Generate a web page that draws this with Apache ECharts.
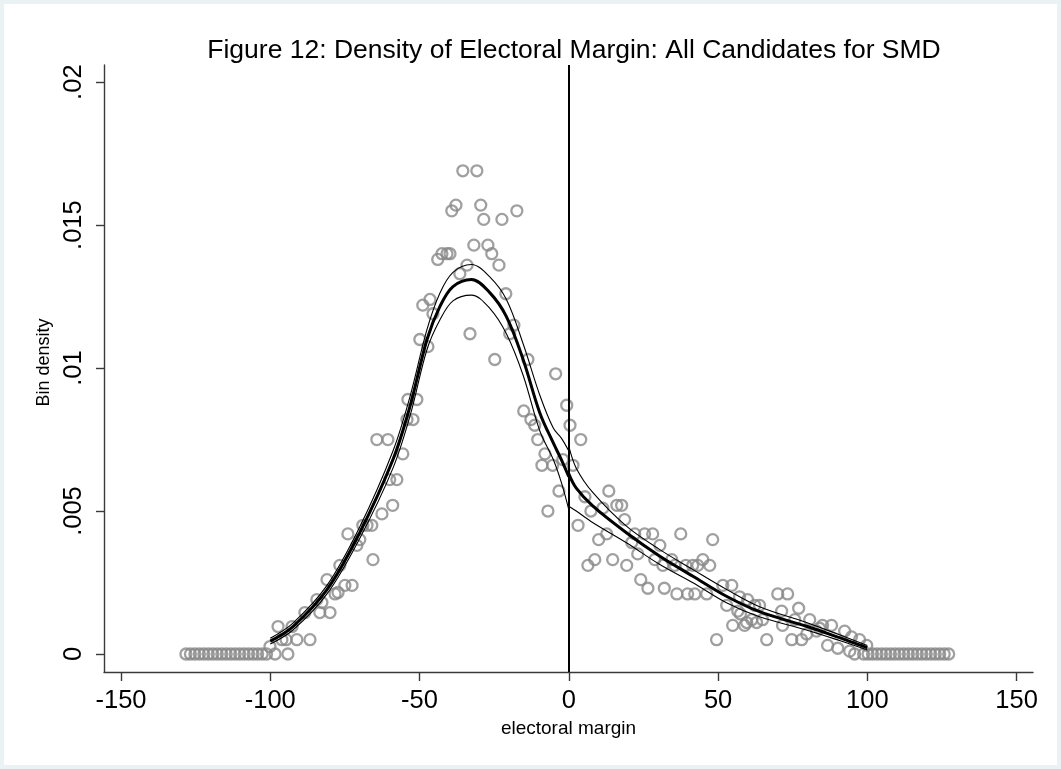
<!DOCTYPE html>
<html>
<head>
<meta charset="utf-8">
<script src="https://cdn.jsdelivr.net/npm/echarts@6/dist/echarts.min.js"></script>
<style>
  html, body { margin: 0; padding: 0; background: #eaf2f3; }
  #chart { width: 1061px; height: 769px; }
</style>
</head>
<body>
<div id="chart"></div>
<script>
// Binned densities of the electoral margin (bin centre, density)
const binMargin = [
  -128.25, -126.75, -125.25, -123.75, -122.25, -120.75, -119.25, -117.75, -116.25, -114.75,
  -113.25, -111.75, -110.25, -108.75, -107.25, -105.75, -104.25, -102.75, -101.25,
  -100.1, -98.4, -97.4, -96.1, -94.7, -94.1, -92.7, -91.1, -88.4, -86.7,
  -84.4, -83.4, -82.7, -81.0, -80.0, -78.3, -77.3, -76.7, -75.0, -74.0,
  -72.6, -71.0, -70.0, -69.0, -67.6, -66.0, -65.6, -64.3, -62.6, -60.6,
  -60.0, -59.0, -57.6, -55.6, -54.2, -53.9, -52.2, -50.9, -49.9, -48.9,
  -47.2, -46.5, -45.5, -43.9, -42.5, -40.8, -39.8, -39.2, -37.8, -36.5,
  -35.5, -34.1, -33.1, -31.8, -30.8, -29.5, -28.5, -27.1, -25.8, -24.8,
  -23.4, -22.4, -21.1, -19.8, -18.4, -17.4, -15.1, -13.7, -12.7, -11.4,
  -10.4, -9.0, -8.0, -7.0, -5.4, -4.4, -3.3, -2.0, -0.7,
  0.4, 1.4, 3.1, 4.0, 5.4, 6.4, 7.4, 8.7, 10.0, 11.4,
  12.7, 13.4, 14.7, 16.1, 17.7, 18.7, 19.4, 21.1, 22.1, 23.1,
  24.1, 25.4, 26.5, 28.1, 28.8, 30.5, 31.5, 32.0, 34.5, 35.5,
  36.2, 37.5, 39.2, 39.8, 41.5, 42.2, 43.2, 44.9, 46.2, 47.2,
  48.2, 49.5, 51.6, 52.9, 54.6, 54.9, 56.6, 57.2, 57.5, 58.9,
  59.6, 59.9, 61.3, 62.3, 62.9, 63.9, 64.9, 66.3, 70.0, 71.3,
  71.6, 73.3, 74.7, 75.7, 77.0, 78.0, 79.7, 80.7, 83.0, 84.0,
  85.0, 86.7, 88.0, 90.1, 92.4, 94.1, 94.7, 95.75, 97.4, 98.75,
  99.8, 100.25,
  101.75, 103.25, 104.75, 106.25, 107.75, 109.25, 110.75, 112.25, 113.75, 115.25,
  116.75, 118.25, 119.75, 121.25, 122.75, 124.25, 125.75, 127.25
];
const binDensity = [
  0, 0, 0, 0, 0, 0, 0, 0, 0, 0,
  0, 0, 0, 0, 0, 0, 0, 0, 0,
  0.00026, 0.0, 0.00096, 0.0005, 0.0005, 0.0, 0.00096, 0.0005, 0.00145, 0.0005,
  0.0019, 0.00145, 0.0018, 0.0026, 0.00145, 0.0021, 0.00215, 0.0031, 0.0024, 0.0042,
  0.0024, 0.0038, 0.0040, 0.0045, 0.0045, 0.0045, 0.0033, 0.0075, 0.0049, 0.0075,
  0.0061, 0.0052, 0.0061, 0.0070, 0.0082, 0.0089, 0.0082, 0.0089, 0.0110, 0.0122,
  0.01075, 0.0124, 0.0119, 0.0138, 0.0140, 0.0140, 0.0140, 0.0155, 0.0157, 0.0133,
  0.0169, 0.0136, 0.0112, 0.0143, 0.0169, 0.0157, 0.0152, 0.0143, 0.0140, 0.0103,
  0.0136, 0.0152, 0.0126, 0.0112, 0.0115, 0.0155, 0.0085, 0.0103, 0.0082, 0.0080,
  0.0075, 0.0066, 0.0070, 0.0050, 0.0066, 0.0098, 0.0057, 0.0068, 0.0087,
  0.0080, 0.0066, 0.0045, 0.0075, 0.0055, 0.0031, 0.0050, 0.0033, 0.0040, 0.0051,
  0.0042, 0.0057, 0.0033, 0.0052, 0.0052, 0.0047, 0.0031, 0.0039, 0.0042, 0.0035,
  0.0026, 0.0042, 0.0023, 0.0042, 0.0033, 0.0038, 0.0031, 0.0023, 0.0033, 0.0031,
  0.0021, 0.0042, 0.0031, 0.0021, 0.0031, 0.0021, 0.0031, 0.0033, 0.0021, 0.0031,
  0.0040, 0.0005, 0.0024, 0.0017, 0.0024, 0.0010, 0.0015, 0.0020, 0.0014, 0.0010,
  0.0011, 0.0019, 0.0012, 0.0017, 0.0011, 0.0017, 0.0012, 0.0005, 0.0021, 0.0015,
  0.0010, 0.0021, 0.0005, 0.0012, 0.0016, 0.0005, 0.0007, 0.0012, 0.0008, 0.0009,
  0.0010, 0.0003, 0.0010, 0.0002, 0.0008, 0.0001, 0.0006, 0, 0.0005, 0,
  0.0003, 0,
  0, 0, 0, 0, 0, 0, 0, 0, 0, 0,
  0, 0, 0, 0, 0, 0, 0, 0
];

// Local linear fit and confidence bounds, left of the cutoff
const leftFitX   = [-100, -92.4, -81, -70, -58.9, -53.2, -47.5, -43.2, -38.8, -32.6, -26.4, -20.9, -15.3, -9.7, -5.2, -2.5, 0];
const leftFit    = [0.00045, 0.00096, 0.00225, 0.00425, 0.0068, 0.00866, 0.0110, 0.01215, 0.01285, 0.0131, 0.01263, 0.0118, 0.0103, 0.00843, 0.00738, 0.0068, 0.0062];
const leftUpper  = [0.00055, 0.00108, 0.0024, 0.00445, 0.0071, 0.0090, 0.01135, 0.01262, 0.01335, 0.01362, 0.01318, 0.0124, 0.01085, 0.00905, 0.0079, 0.00755, 0.0071];
const leftLower  = [0.00035, 0.00084, 0.0021, 0.00405, 0.0065, 0.00832, 0.01065, 0.01168, 0.01235, 0.01255, 0.01208, 0.0112, 0.00975, 0.0078, 0.0068, 0.0060, 0.00505];

// Local linear fit and confidence bounds, right of the cutoff
const rightFitX  = [0, 2.5, 8.1, 19.3, 30.5, 41.6, 52.8, 63.9, 79.6, 90.7, 100];
const rightFit   = [0.0063, 0.0058, 0.00517, 0.00424, 0.00342, 0.00272, 0.00202, 0.00148, 0.00097, 0.00057, 0.00022];
const rightUpper = [0.00727, 0.0065, 0.00564, 0.00447, 0.00365, 0.00295, 0.00226, 0.00165, 0.0011, 0.00067, 0.0003];
const rightLower = [0.00517, 0.0050, 0.00459, 0.00389, 0.00313, 0.00249, 0.00179, 0.0013, 0.00084, 0.00047, 0.00014];

const xTicks = [-150, -100, -50, 0, 50, 100, 150];
const yTicks = [0, 0.005, 0.01, 0.015, 0.02];

const FONT = '"Liberation Sans", Arial, sans-serif';
const zip = (xs, ys) => xs.map((x, i) => [x, ys[i]]);

function fitLine(name, xs, ys, width) {
  return {
    name: name, type: 'line', data: zip(xs, ys),
    smooth: 0.35, showSymbol: false, symbol: 'none', silent: true, z: 5,
    lineStyle: { color: '#000', width: width }
  };
}

const chart = echarts.init(document.getElementById('chart'), null, { renderer: 'canvas' });
chart.setOption({
  animation: false,
  backgroundColor: '#eaf2f3',
  graphic: [{
    type: 'rect', z: -10, silent: true,
    shape: { x: 4, y: 4, width: 1053, height: 761 },
    style: { fill: '#ffffff' }
  }],
  title: {
    text: 'Figure 12: Density of Electoral Margin: All Candidates for SMD',
    left: 569, top: 32, textAlign: 'center',
    textStyle: { fontFamily: FONT, fontSize: 26.5, fontWeight: 'normal', color: '#000' }
  },
  grid: { left: 104, right: 28, top: 65, bottom: 97, containLabel: false },
  xAxis: {
    type: 'value', min: -155.7, max: 155.5,
    name: 'electoral margin', nameLocation: 'middle', nameGap: 45,
    nameTextStyle: { fontFamily: FONT, fontSize: 19, color: '#000' },
    splitLine: { show: false },
    axisLine: { onZero: false, lineStyle: { color: '#3a3a3a', width: 1.4 } },
    axisTick: { customValues: xTicks, length: 9, lineStyle: { color: '#3a3a3a', width: 1.4 } },
    axisLabel: {
      customValues: xTicks, margin: 16,
      fontFamily: FONT, fontSize: 25.5, color: '#000',
      formatter: v => String(v)
    }
  },
  yAxis: {
    type: 'value', min: -0.00063, max: 0.0206,
    name: 'Bin density', nameLocation: 'middle', nameGap: 42,
    nameTextStyle: { fontFamily: FONT, fontSize: 18, color: '#000', padding: [0, 0, 0, 12] },
    splitLine: { show: false },
    axisLine: { show: true, onZero: false, lineStyle: { color: '#3a3a3a', width: 1.4 } },
    axisTick: { show: true, customValues: yTicks, length: 8, lineStyle: { color: '#3a3a3a', width: 1.4 } },
    axisLabel: {
      customValues: yTicks, rotate: 90, margin: 17,
      fontFamily: FONT, fontSize: 25.5, color: '#000',
      formatter: v => (v === 0 ? '0' : String(+v.toFixed(4)).replace(/^0\./, '.'))
    }
  },
  series: [
    {
      name: 'bins', type: 'scatter', data: zip(binMargin, binDensity),
      symbol: 'circle', symbolSize: 11, silent: true, z: 3,
      itemStyle: { color: 'rgba(0,0,0,0)', borderColor: '#888888', borderWidth: 2.3 },
      markLine: {
        silent: true, symbol: 'none', label: { show: false },
        lineStyle: { color: '#000', width: 2, type: 'solid' },
        data: [{ xAxis: 0 }]
      }
    },
    fitLine('left upper', leftFitX, leftUpper, 1.1),
    fitLine('left lower', leftFitX, leftLower, 1.1),
    fitLine('left fit', leftFitX, leftFit, 3),
    fitLine('right upper', rightFitX, rightUpper, 1.1),
    fitLine('right lower', rightFitX, rightLower, 1.1),
    fitLine('right fit', rightFitX, rightFit, 3)
  ]
});
</script>
</body>
</html>
